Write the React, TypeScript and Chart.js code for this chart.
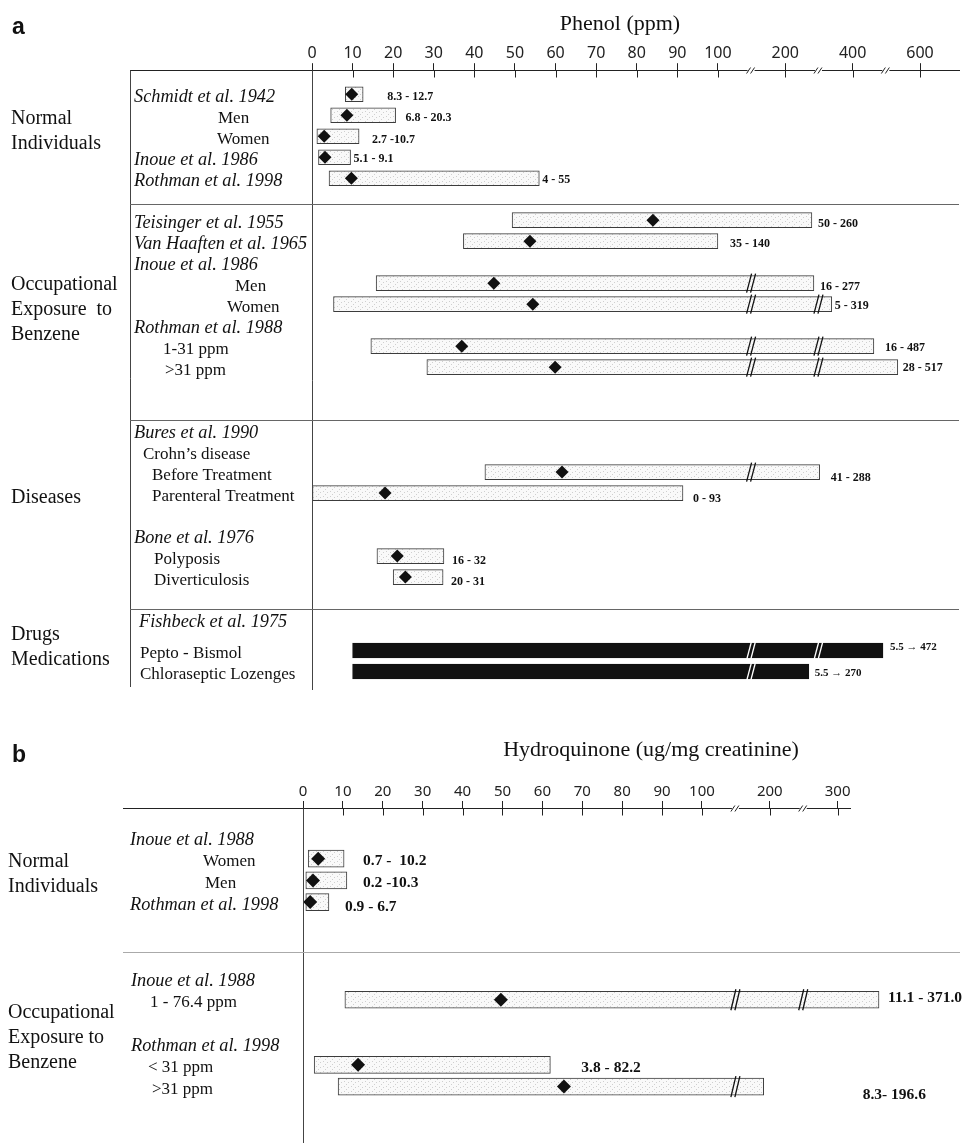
import React, { useEffect, useRef } from 'react';
import { Chart, registerables } from 'chart.js';

Chart.register(...registerables);

const SERIF = '"Liberation Serif", "DejaVu Serif", serif';
const SANS = '"Noto Sans", "Open Sans", sans-serif';
const BOLD_SANS = '"Liberation Sans", Arial, sans-serif';

// ---------------- Panel a : Phenol (ppm) ----------------
const phenolTickValues = [0, 10, 20, 30, 40, 50, 60, 70, 80, 90, 100, 200, 400, 600];
const phenolTickLabels = ['0', '10', '20', '30', '40', '50', '60', '70', '80', '90', '100', '200', '400', '600'];
const phenolBreaks = [100, 200, 400, 600];
const phenolGroups = ['Normal\nIndividuals', 'Occupational\nExposure  to\nBenzene', 'Diseases', 'Drugs\nMedications'];
const phenolRows = [
  'Schmidt et al. 1942', 'Men', 'Women', 'Inoue et al. 1986', 'Rothman et al. 1998',
  'Teisinger et al. 1955', 'Van Haaften et al. 1965', 'Inoue et al. 1986', 'Men', 'Women',
  'Rothman et al. 1988', '1-31 ppm', '>31 ppm',
  'Bures et al. 1990', 'Crohn\u2019s disease', 'Before Treatment', 'Parenteral Treatment',
  'Bone et al. 1976', 'Polyposis', 'Diverticulosis',
  'Fishbeck et al. 1975', 'Pepto - Bismol', 'Chloraseptic Lozenges',
];
const phenolLow = [8.2, 4.6, 1.2, 1.6, 4.2, 49.3, 37.3, null, 15.8, 5.3, null, 14.5, 28.3, null, null, 42.6, 0, null, 16, 20, null, 10, 10];
const phenolHigh = [12.6, 20.6, 11.6, 9.5, 56, 279, 100, null, 285, 338, null, 463, 534, null, null, 302, 91.4, null, 32.5, 32.3, null, 490, 270];
const phenolMean = [9.8, 8.6, 3.0, 3.2, 9.7, 84, 53.7, null, 44.8, 54.4, null, 36.9, 59.9, null, null, 61.6, 18, null, 21, 23, null, null, null];
const phenolRangeText = [
  '8.3 - 12.7', '6.8 - 20.3', '2.7 -10.7', '5.1 - 9.1', '4 - 55',
  '50 - 260', '35 - 140', '', '16 - 277', '5 - 319', '', '16 - 487', '28 - 517',
  '', '', '41 - 288', '0 - 93', '', '16 - 32', '20 - 31', '', '5.5 \u2192 472', '5.5 \u2192 270',
];

// layout (row slots in half-row units, text offsets) for panel a
const phenolSlots = [0, 2, 4, 6, 8, 12, 14, 16, 18, 20, 22, 24, 26, 32, 34, 36, 38, 42, 44, 46, 50, 53, 55];
const phenolRowX = [134, 218, 217, 134, 134, 134, 134, 134, 235, 227, 134, 163, 165, 134, 143, 152, 152, 134, 154, 154, 139, 140, 140];
const phenolLabelDx = [24, 10, 13, 3, 3, 6, 12, 0, 6, 3, 0, 11, 5, 0, 0, 11, 10, 0, 8, 8, 0, 7, 6];
const phenolLabelDy = [3, 3, 4, 2, 2, 4, 3, 0, 4, 2, 0, 2, 1, 0, 0, 6, 6, 0, 5, 5, 0, -3, 2];
const phenolSolid = phenolRows.map((_, i) => i >= 21);
const phenolBreakMarks = phenolRows.map((_, i) => i !== 5);
const phenolGroupSlots = [3.48, 20.57, 38.4, 52.7];
const phenolDividers = [10.5, 31, 49];

// ---------------- Panel b : Hydroquinone ----------------
const hqTickValues = [0, 10, 20, 30, 40, 50, 60, 70, 80, 90, 100, 200, 300];
const hqTickLabels = ['0', '10', '20', '30', '40', '50', '60', '70', '80', '90', '100', '200', '300'];
const hqBreaks = [100, 200, 300];
const hqGroups = ['Normal\nIndividuals', 'Occupational\nExposure to\nBenzene'];
const hqRows = [
  'Inoue et al. 1988', 'Women', 'Men', 'Rothman et al. 1998',
  'Inoue et al. 1988', '1 - 76.4 ppm', 'Rothman et al. 1998', '< 31 ppm', '>31 ppm',
];
const hqLow = [null, 1.3, 0.7, 0.7, null, 10.5, null, 2.8, 8.8];
const hqHigh = [null, 10.3, 11, 6.5, null, 361, null, 62, 191];
const hqMean = [null, 3.8, 2.5, 1.8, null, 49.6, null, 13.8, 65.4];
const hqRangeText = ['', '0.7 -  10.2', '0.2 -10.3', '0.9 - 6.7', '', '11.1 - 371.0', '', '3.8 - 82.2', '8.3- 196.6'];

const hqSlots = [0, 2, 4, 6, 13, 15, 19, 21, 23];
const hqRowX = [130, 203, 205, 130, 131, 150, 131, 148, 152];
const hqLabelDx = [0, 19, 16, 16, 0, 9, 0, 31, 99];
const hqLabelDy = [0, 2, 3, 5, 0, -2, 0, 3, 8];
const hqSolid = hqRows.map(() => false);
const hqBreakMarks = hqRows.map(() => true);
const hqGroupSlots = [3.46, 18.5];
const hqDividers = [10.6];

type Spec = {
  letter: string; letterY: number;
  title: string; titleX: number; titleY: number;
  tickValues: number[]; tickLabels: string[]; tickSize: number;
  breaks: number[]; seg: number; xMax: number;
  groups: string[]; groupSlots: number[]; groupX: number;
  rows: string[]; low: (number | null)[]; high: (number | null)[]; mean: (number | null)[]; rangeText: string[];
  slots: number[]; rowX: number[]; labelDx: number[]; labelDy: number[];
  solid: boolean[]; breakMarks: boolean[];
  dividers: number[]; dividerColor: string; dividerRight: number;
  yMin: number; yMax: number;
  padding: { top: number; left: number; right: number; bottom: number };
  tableLeft: number; boxLeft: boolean;
  barThickness: number; diamond: number; rangeFont: number; smallRangeFont: number;
  height: number;
};

const specA: Spec = {
  letter: 'a', letterY: 34,
  title: 'Phenol (ppm)', titleX: 620, titleY: 24,
  tickValues: phenolTickValues, tickLabels: phenolTickLabels, tickSize: 16,
  breaks: phenolBreaks, seg: 16.6, xMax: 159.4,
  groups: phenolGroups, groupSlots: phenolGroupSlots, groupX: 11,
  rows: phenolRows, low: phenolLow, high: phenolHigh, mean: phenolMean, rangeText: phenolRangeText,
  slots: phenolSlots, rowX: phenolRowX, labelDx: phenolLabelDx, labelDy: phenolLabelDy,
  solid: phenolSolid, breakMarks: phenolBreakMarks,
  dividers: phenolDividers, dividerColor: '#666', dividerRight: 959,
  yMin: -2.29, yMax: 56.76,
  padding: { top: 44, left: 312, right: 4, bottom: 10 },
  tableLeft: 130, boxLeft: true,
  barThickness: 15, diamond: 6.5, rangeFont: 12, smallRangeFont: 11,
  height: 700,
};

const specB: Spec = {
  letter: 'b', letterY: 62,
  title: 'Hydroquinone (ug/mg creatinine)', titleX: 651, titleY: 50,
  tickValues: hqTickValues, tickLabels: hqTickLabels, tickSize: 15,
  breaks: hqBreaks, seg: 17, xMax: 137.1,
  groups: hqGroups, groupSlots: hqGroupSlots, groupX: 8,
  rows: hqRows, low: hqLow, high: hqHigh, mean: hqMean, rangeText: hqRangeText,
  slots: hqSlots, rowX: hqRowX, labelDx: hqLabelDx, labelDy: hqLabelDy,
  solid: hqSolid, breakMarks: hqBreakMarks,
  dividers: hqDividers, dividerColor: '#aaa', dividerRight: 960,
  yMin: -2.67, yMax: 28.2,
  padding: { top: 83, left: 303, right: 113, bottom: 0 },
  tableLeft: 123, boxLeft: false,
  barThickness: 17, diamond: 7, rangeFont: 15.5, smallRangeFont: 15.5,
  height: 443,
};

function makeTransform(breaks: number[], seg: number) {
  return (v: number) => {
    if (v <= breaks[0]) return v;
    for (let i = 0; i < breaks.length - 1; i++) {
      if (v <= breaks[i + 1]) return breaks[0] + i * seg + ((v - breaks[i]) / (breaks[i + 1] - breaks[i])) * seg;
    }
    const n = breaks.length - 1;
    const span = breaks[n] - breaks[n - 1];
    return breaks[0] + n * seg + ((v - breaks[n]) / span) * seg;
  };
}

function makePattern(ctx: CanvasRenderingContext2D) {
  const c = document.createElement('canvas');
  c.width = 7;
  c.height = 5;
  const g = c.getContext('2d')!;
  g.fillStyle = '#f9f9f9';
  g.fillRect(0, 0, 7, 5);
  g.fillStyle = '#cfcfcf';
  [[1, 1], [5, 2], [3, 4]].forEach(([x, y]) => g.fillRect(x, y, 1, 1));
  return ctx.createPattern(c, 'repeat') || '#f2f2f2';
}

function buildChart(canvas: HTMLCanvasElement, spec: Spec) {
  const ctx = canvas.getContext('2d')!;
  const f = makeTransform(spec.breaks, spec.seg);
  const pattern = makePattern(ctx);
  const barIdx = spec.low.map((v, i) => (v == null ? -1 : i)).filter((i) => i >= 0);
  const meanIdx = spec.mean.map((v, i) => (v == null ? -1 : i)).filter((i) => i >= 0);
  const nSeg = spec.breaks.length - 1;

  const overlay = {
    id: 'overlay',
    afterDraw(chart: any) {
      const c: CanvasRenderingContext2D = chart.ctx;
      const xs = chart.scales.x;
      const ys = chart.scales.y;
      const ca = chart.chartArea;
      const X = (v: number) => xs.getPixelForValue(f(v));
      const Y = (s: number) => ys.getPixelForValue(s);
      const line = (x1: number, y1: number, x2: number, y2: number, color: string, w = 1) => {
        c.beginPath();
        c.strokeStyle = color;
        c.lineWidth = w;
        c.moveTo(x1, y1);
        c.lineTo(x2, y2);
        c.stroke();
      };
      c.save();
      const axisY = Math.round(ca.top) + 0.5;
      line(spec.tableLeft, axisY, ca.left, axisY, '#222');
      spec.tickValues.forEach((v) => {
        const px = Math.round(X(v)) + 0.5;
        line(px, axisY, px, axisY + 7, '#222');
      });
      const zx = Math.round(X(0)) + 0.5;
      line(zx, axisY, zx, ca.bottom, '#444');
      if (spec.boxLeft) line(spec.tableLeft + 0.5, axisY, spec.tableLeft + 0.5, ca.bottom - 3, '#444');
      spec.dividers.forEach((d) => {
        const y = Math.round(Y(d)) + 0.5;
        line(spec.tableLeft, y, spec.dividerRight, y, spec.dividerColor, 1.2);
      });
      for (let i = 0; i < nSeg; i++) {
        const bx = xs.getPixelForValue(spec.breaks[0] + (i + 0.5) * spec.seg);
        c.fillStyle = '#fff';
        c.fillRect(bx - 4, axisY - 1.5, 7, 3);
        line(bx - 5, axisY + 3, bx - 1, axisY - 3, '#222');
        line(bx - 1, axisY + 3, bx + 3, axisY - 3, '#222');
      }
      const bh = spec.barThickness;
      barIdx.forEach((i) => {
        if (!spec.breakMarks[i]) return;
        const x1 = X(spec.low[i] as number);
        const x2 = X(spec.high[i] as number);
        const yc = Y(spec.slots[i]);
        for (let k = 0; k < Math.min(2, nSeg); k++) {
          const bx = xs.getPixelForValue(spec.breaks[0] + (k + 0.5) * spec.seg);
          if (x2 > bx + 6 && x1 < bx - 6) {
            const col = spec.solid[i] ? '#fff' : '#111';
            line(bx - 5, yc + bh / 2 + 2, bx, yc - bh / 2 - 2, col, 1.3);
            line(bx - 1, yc + bh / 2 + 2, bx + 4, yc - bh / 2 - 2, col, 1.3);
          }
        }
      });
      c.fillStyle = '#111';
      c.textAlign = 'left';
      c.textBaseline = 'middle';
      barIdx.forEach((i) => {
        const t = spec.rangeText[i];
        if (!t) return;
        const size = spec.solid[i] ? spec.smallRangeFont : spec.rangeFont;
        c.font = `bold ${size}px ${SERIF}`;
        c.fillText(t, X(spec.high[i] as number) + spec.labelDx[i], Y(spec.slots[i]) + spec.labelDy[i]);
      });
      spec.rows.forEach((r, i) => {
        const italic = r.includes('et al.');
        c.font = italic ? `italic 18.3px ${SERIF}` : `17px ${SERIF}`;
        c.fillText(r, spec.rowX[i], Y(spec.slots[i]) + 3);
      });
      c.font = `20px ${SERIF}`;
      spec.groups.forEach((g, gi) => {
        const lines = g.split('\n');
        const cy = Y(spec.groupSlots[gi]);
        lines.forEach((l, li) => {
          c.fillText(l, spec.groupX, cy + (li - (lines.length - 1) / 2) * 25);
        });
      });
      c.textAlign = 'center';
      c.font = `22px ${SERIF}`;
      c.fillText(spec.title, spec.titleX, spec.titleY);
      c.textAlign = 'left';
      c.textBaseline = 'alphabetic';
      c.font = `bold 23px ${BOLD_SANS}`;
      c.fillText(spec.letter, 12, spec.letterY);
      c.restore();
    },
  };

  return new Chart(canvas, {
    type: 'bar',
    data: {
      datasets: [
        {
          type: 'bar',
          order: 2,
          data: barIdx.map((i) => ({ x: [f(spec.low[i] as number), f(spec.high[i] as number)], y: spec.slots[i] })),
          backgroundColor: barIdx.map((i) => (spec.solid[i] ? '#111' : pattern)),
          borderColor: barIdx.map((i) => (spec.solid[i] ? '#111' : '#3c3c3c')),
          borderWidth: 1,
          borderSkipped: false,
          barThickness: spec.barThickness,
          clip: false,
        } as any,
        {
          type: 'scatter',
          order: 1,
          data: meanIdx.map((i) => ({ x: f(spec.mean[i] as number), y: spec.slots[i] })),
          pointStyle: 'rectRot',
          pointRadius: spec.diamond,
          backgroundColor: '#111',
          borderColor: '#111',
          borderWidth: 0,
          clip: false,
        } as any,
      ],
    },
    options: {
      indexAxis: 'y',
      responsive: false,
      animation: false,
      events: [],
      layout: { padding: spec.padding, autoPadding: false },
      plugins: { legend: { display: false }, tooltip: { enabled: false }, title: { display: false } },
      scales: {
        x: {
          type: 'linear',
          position: 'top',
          min: 0,
          max: spec.xMax,
          offset: false,
          afterBuildTicks: (s: any) => {
            s.ticks = spec.tickValues.map((v) => ({ value: f(v) }));
          },
          ticks: {
            autoSkip: false,
            maxRotation: 0,
            minRotation: 0,
            padding: 0,
            color: '#222',
            font: { family: SANS, size: spec.tickSize },
            callback: (_v: any, i: number) => spec.tickLabels[i],
          },
          grid: { display: true, drawOnChartArea: false, drawTicks: true, tickLength: 7, color: '#222', lineWidth: 1, offset: false },
          border: { display: true, color: '#222', width: 1 },
        },
        y: { type: 'linear', reverse: true, min: spec.yMin, max: spec.yMax, offset: false, grid: { offset: false }, display: false },
      },
    } as any,
    plugins: [overlay],
  });
}

function Panel({ spec, top }: { spec: Spec; top: number }) {
  const ref = useRef<HTMLCanvasElement>(null);
  useEffect(() => {
    const chart = buildChart(ref.current!, spec);
    return () => chart.destroy();
  }, [spec]);
  return (
    <canvas
      ref={ref}
      width={963}
      height={spec.height}
      style={{ position: 'absolute', left: 0, top, width: 963, height: spec.height }}
    />
  );
}

export default function App() {
  return (
    <div style={{ position: 'absolute', left: 0, top: 0, width: 963, height: 1143, background: '#fff', overflow: 'hidden' }}>
      <Panel spec={specA} top={0} />
      <Panel spec={specB} top={700} />
    </div>
  );
}
